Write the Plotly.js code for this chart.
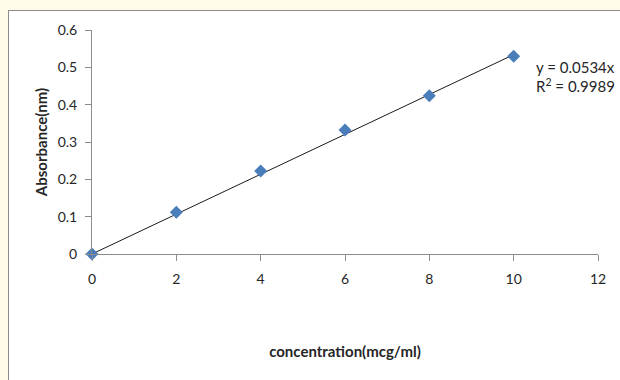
<!DOCTYPE html>
<html>
<head>
<meta charset="utf-8">
<script src="https://cdn.plot.ly/plotly-3.0.1.min.js"></script>
<style>
html,body{margin:0;padding:0;background:#fffbe9;width:620px;height:380px;overflow:hidden;}
#wrap{position:absolute;left:8px;top:10px;width:611px;height:369px;background:#fff;border-left:1px solid #8c8c8c;border-top:1px solid #8c8c8c;}
#chart{width:611px;height:369px;}
</style>
</head>
<body>
<div id="wrap"><div id="chart"></div></div>
<script>
const concentration = [0, 2, 4, 6, 8, 10];
const absorbance = [0, 0.112, 0.222, 0.332, 0.424, 0.53];
const slope = 0.0534;
const equationText = "y = 0.0534x";
const r2Text = "R<sup>2</sup> = 0.9989";
const xTicks = [0, 2, 4, 6, 8, 10, 12];
const yTicks = [0, 0.1, 0.2, 0.3, 0.4, 0.5, 0.6];

const trendX = [concentration[0], concentration[concentration.length - 1]];
const trendY = trendX.map(x => slope * x);

const font = "Lato, Carlito, 'Liberation Sans', Arial, sans-serif";

const data = [
  {x: trendX, y: trendY, mode: 'lines', line: {color: '#1a1a1a', width: 1}, hoverinfo: 'skip', showlegend: false, cliponaxis: false},
  {x: concentration, y: absorbance, mode: 'markers', marker: {symbol: 'diamond', size: 10, color: '#4a7ebb'}, showlegend: false, cliponaxis: false}
];

const layout = {
  width: 611, height: 369,
  margin: {l: 83, r: 22, t: 19, b: 126},
  paper_bgcolor: '#fff', plot_bgcolor: '#fff',
  font: {family: font, size: 14, color: '#262626'},
  xaxis: {
    range: [0, 12], tickvals: xTicks, ticks: 'outside', ticklen: 6, tickcolor: '#8c8c8c',
    showline: true, linecolor: '#8c8c8c', linewidth: 1, showgrid: false, zeroline: false,
    tickfont: {size: 14, color: '#262626'}, ticklabelstandoff: 6,
    title: {text: 'concentration(mcg/ml)', font: {size: 15, color: '#262626', weight: 'bold'}, standoff: 60}
  },
  yaxis: {
    range: [0, 0.6], tickvals: yTicks, ticks: 'outside', ticklen: 6, tickcolor: '#8c8c8c',
    showline: true, linecolor: '#8c8c8c', linewidth: 1, showgrid: false, zeroline: false,
    tickfont: {size: 14, color: '#262626'}, ticklabelstandoff: 5,
    title: {text: 'Absorbance(nm)', font: {size: 15, color: '#262626', weight: 'bold'}, standoff: 6}
  },
  annotations: [
    {xref: 'paper', yref: 'paper', x: 0.874, y: 0.835, xanchor: 'left', yanchor: 'middle', showarrow: false, text: equationText, font: {size: 15, color: '#262626'}},
    {xref: 'paper', yref: 'paper', x: 0.874, y: 0.752, xanchor: 'left', yanchor: 'middle', showarrow: false, text: r2Text, font: {size: 15, color: '#262626'}}
  ]
};

Plotly.newPlot('chart', data, layout, {displayModeBar: false, staticPlot: true});
</script>
</body>
</html>
